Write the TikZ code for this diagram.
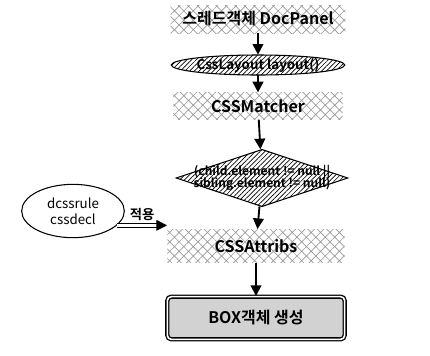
\documentclass[tikz,border=0pt]{standalone}
\usepackage{fontspec}
\setmainfont{Noto Sans CJK KR}[BoldFont={Noto Sans CJK KR Bold}]
\usetikzlibrary{positioning, arrows.meta, shapes.geometric, patterns.meta}

\begin{document}
\begin{tikzpicture}[
    x=0.75pt, y=-0.75pt,
    block/.style={rectangle, pattern={Hatch[angle=45, distance=5pt, line width=0.5pt]}, pattern color=gray!80, minimum width=131pt, minimum height=21pt, font=\bfseries\large, inner sep=0pt},
    oval/.style={ellipse, draw, line width=0.8pt, pattern={Lines[angle=45, distance=2.5pt, line width=0.5pt]}, inner sep=0pt, font=\bfseries},
    arr/.style={-{Triangle[length=8pt, width=8pt]}, line width=1.4pt},
    lbl/.style={font=\small, align=center},
  ]
    \useasboundingbox (0,0) rectangle (430,355);

    \node[block] (doc) at (258,19) {스레드객체 DocPanel};
    \node[oval, minimum width=116pt, minimum height=15pt] (layout) at (258,65) {CssLayout layout()};
    \node[block, minimum width=127pt, minimum height=20pt] (match) at (258,106) {CSSMatcher};
    \node[diamond, draw, line width=0.8pt, pattern={Lines[angle=45, distance=2.5pt, line width=0.5pt]}, minimum width=129pt, minimum height=43pt, inner sep=0pt] (cond) at (262,178) {};
    \node[font=\bfseries\small, align=center, inner sep=0pt] (condtxt) at (cond.center) {(child.element != null ||\\[-2pt]sibling.element != null)};
    \node[ellipse, draw, line width=0.8pt, lbl, font=\normalsize, inner sep=0pt, minimum width=77pt, minimum height=40pt] (rule) at (73,211) {dcssrule\\cssdecl};
    \node[block, minimum width=133pt, minimum height=25pt] (attr) at (256,246) {CSSAttribs};
    \node[rectangle, draw, line width=1pt, rounded corners=3pt, double, double distance=1.2pt, fill=gray!35, minimum width=133pt, minimum height=32pt, font=\bfseries\large] (box) at (256,318) {BOX객체 생성};

    \draw[arr] (doc) -- (layout);
    \draw[arr] (layout) -- (match);
    \draw[arr] (match) -- (cond);
    \draw[arr] (cond) -- (attr);
    \draw[arr] (attr) -- (box);
    \draw[-{Triangle[length=8pt, width=8pt]}, double, double distance=2pt, line width=0.8pt] (rule.-18) -- node[above, lbl, font=\normalsize\bfseries] {적용} (rule.-18 -| attr.west);
  \end{tikzpicture}
\end{document}
